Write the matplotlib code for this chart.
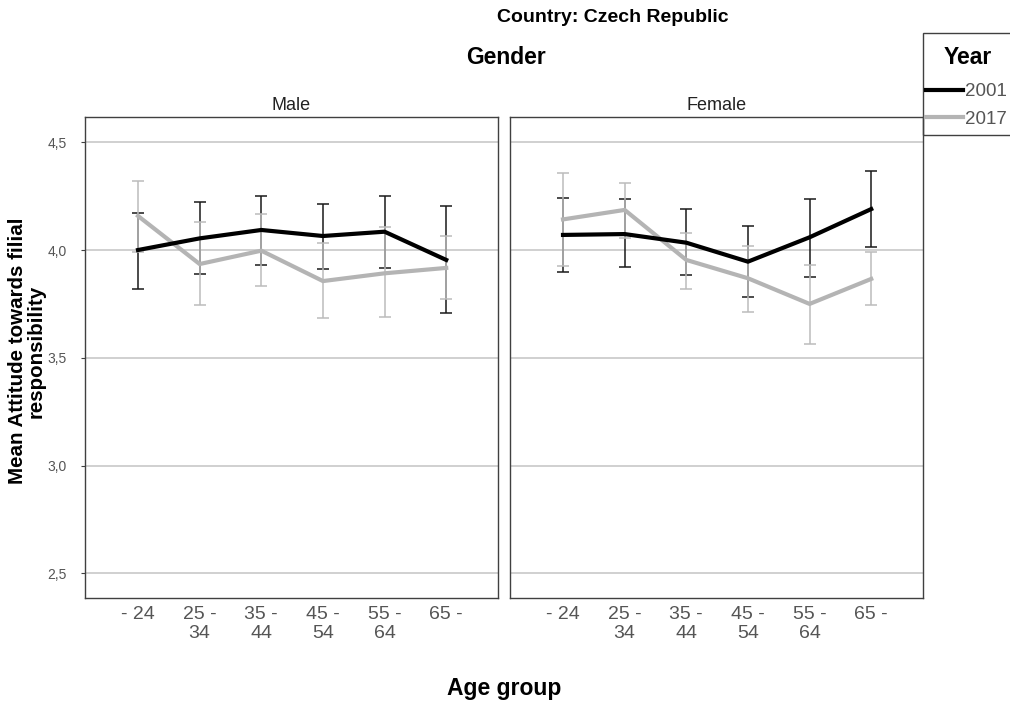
import matplotlib
matplotlib.use("Agg")
import matplotlib.pyplot as plt
from matplotlib.patches import Rectangle
from matplotlib.ticker import FuncFormatter

plt.rcParams["font.family"] = ["Liberation Sans", "DejaVu Sans"]

age_groups = ["- 24", "25 -\n34", "35 -\n44", "45 -\n54", "55 -\n64", "65 -"]
genders = ["Male", "Female"]
years = ["2001", "2017"]

# mean and 95% CI bounds per gender/year
male_2001 = [4.00, 4.054, 4.093, 4.065, 4.085, 3.954]
male_2001_hi = [4.17, 4.224, 4.25, 4.212, 4.25, 4.204]
male_2001_lo = [3.82, 3.889, 3.932, 3.913, 3.915, 3.709]
male_2017 = [4.158, 3.935, 3.997, 3.856, 3.892, 3.917]
male_2017_hi = [4.32, 4.128, 4.167, 4.031, 4.105, 4.065]
male_2017_lo = [3.992, 3.745, 3.834, 3.683, 3.688, 3.771]

female_2001 = [4.07, 4.074, 4.034, 3.946, 4.059, 4.19]
female_2001_hi = [4.24, 4.235, 4.189, 4.111, 4.235, 4.366]
female_2001_lo = [3.90, 3.92, 3.884, 3.783, 3.876, 4.015]
female_2017 = [4.142, 4.186, 3.954, 3.869, 3.75, 3.866]
female_2017_hi = [4.356, 4.309, 4.08, 4.02, 3.93, 3.992]
female_2017_lo = [3.927, 4.054, 3.819, 3.714, 3.564, 3.745]

series = {
    "Male": [(male_2001, male_2001_lo, male_2001_hi), (male_2017, male_2017_lo, male_2017_hi)],
    "Female": [(female_2001, female_2001_lo, female_2001_hi), (female_2017, female_2017_lo, female_2017_hi)],
}
line_colors = ["#000000", "#b4b4b4"]
err_colors = ["#1a1a1a", "#bcbcbc"]
y_ticks = [2.5, 3.0, 3.5, 4.0, 4.5]

W, H = 1010, 707
fig = plt.figure(figsize=(W / 100, H / 100), dpi=100)

def fig_box(x0, y0, x1, y1):
    # pixel box (top-left origin) -> figure fraction rect
    return [x0 / W, 1 - y1 / H, (x1 - x0) / W, (y1 - y0) / H]

panels = [fig_box(85, 117, 498, 598), fig_box(510, 117, 923, 598)]
xs = list(range(len(age_groups)))
handles = []
for k, (g, rect) in enumerate(zip(genders, panels)):
    ax = fig.add_axes(rect)
    for i, (m, lo, hi) in enumerate(series[g]):
        yerr = [[a - b for a, b in zip(m, lo)], [c - a for a, c in zip(m, hi)]]
        ax.errorbar(xs, m, yerr=yerr, fmt="none", ecolor=err_colors[i],
                    elinewidth=1.1, capsize=4, capthick=1.1, zorder=3 + i)
        ln, = ax.plot(xs, m, color=line_colors[i], lw=3, zorder=5 - i,
                      solid_joinstyle="miter", label=years[i])
        if k == 0:
            handles.append(ln)
    ax.set_xlim(-0.86, 5.84)
    ax.set_ylim(2.386, 4.617)
    ax.set_yticks(y_ticks)
    ax.yaxis.grid(True, color="#c8c8c8", lw=1.2)
    ax.set_axisbelow(True)
    ax.set_xticks(xs)
    ax.set_xticklabels(age_groups, fontsize=14, color="#555555", linespacing=1.1)
    ax.tick_params(axis="x", length=0, pad=6)
    for sp in ax.spines.values():
        sp.set_color("#404040")
        sp.set_linewidth(1.0)
    if k == 0:
        ax.yaxis.set_major_formatter(FuncFormatter(lambda v, p: f"{v:.1f}".replace(".", ",")))
        ax.tick_params(axis="y", length=3, color="#404040", labelsize=10,
                       labelcolor="#555555", pad=10)
    else:
        ax.tick_params(axis="y", length=0, labelleft=False)
    ax.set_title(g, fontsize=13, color="#222222", pad=5)

fig.text(613 / W, 1 - 18 / H, "Country: Czech Republic", ha="center", va="center",
         fontsize=14, fontweight="bold")
fig.text(506 / W, 1 - 57 / H, "Gender", ha="center", va="center",
         fontsize=16.5, fontweight="bold")
fig.text(504 / W, 1 - 689 / H, "Age group", ha="center", va="center",
         fontsize=16.5, fontweight="bold")
fig.text(27 / W, 1 - 351 / H, "Mean Attitude towards filial\nresponsibility",
         ha="center", va="center", rotation=90, fontsize=14.8, fontweight="bold",
         linespacing=1.0)

# legend box on the right
fig.patches.append(Rectangle((923 / W, 1 - 135 / H), 95 / W, 102 / H,
                             transform=fig.transFigure, fill=False,
                             edgecolor="#404040", lw=1.0))
fig.text(968 / W, 1 - 57 / H, "Year", ha="center", va="center",
         fontsize=16.5, fontweight="bold")
fig.legend(handles=handles, loc="upper left", bbox_to_anchor=(926 / W, 1 - 83 / H),
           frameon=False, fontsize=13.5, handlelength=1.95, handletextpad=0.12,
           labelspacing=0.55, borderpad=0, borderaxespad=0, labelcolor="#555555")

fig.savefig("out.png", dpi=100)
